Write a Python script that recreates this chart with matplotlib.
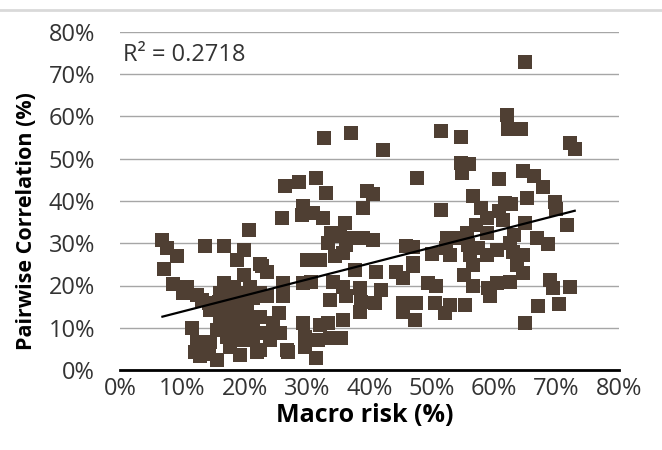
import numpy as np
import matplotlib.pyplot as plt
from matplotlib.lines import Line2D
from matplotlib.ticker import FuncFormatter

plt.rcParams['font.family'] = ['Open Sans', 'DejaVu Sans']

# values in %
x_left = [6.8, 7.5, 9.2, 7.1, 8.5, 10.7, 10.1, 12.3, 13.1, 14.2,
          13.6, 16.7, 20.7, 19.9, 18.7, 22.4, 23.5, 16.6, 19.8, 18.2,
          20.8, 16.0, 17.6, 19.8, 21.4, 23.5, 26.2, 26.2, 14.4, 16.6,
          18.4, 20.3, 22.4, 24.6, 25.6, 11.5, 12.3, 12.0, 12.8, 14.4,
          14.2, 15.5, 15.5, 17.1, 17.1, 17.6, 19.2, 19.2, 19.2, 21.4,
          21.4, 22.4, 23.5, 25.1, 26.7, 22.7, 22.4, 20.3, 18.2, 24.0,
          21.9, 20.3, 16.0, 15.8, 18.8, 25.5]
y_left = [30.8, 28.8, 27.0, 23.9, 20.4, 19.7, 18.2, 17.8, 16.6, 15.8,
          29.4, 29.4, 33.2, 28.3, 26.1, 25.1, 23.3, 20.5, 22.5, 19.7,
          19.7, 18.2, 16.6, 18.2, 17.0, 17.4, 20.5, 17.4, 14.2, 14.2,
          13.8, 14.2, 12.6, 11.1, 8.7, 9.9, 6.7, 4.3, 3.2, 6.7,
          3.9, 2.4, 9.5, 11.1, 7.9, 5.5, 9.9, 7.1, 3.6, 10.3,
          7.1, 4.7, 8.7, 8.7, 4.7, 24.5, 18.2, 12.6, 10.3, 7.1,
          4.3, 16.2, 12.6, 16.0, 16.0, 13.5]

x_mid = [32.7, 37.0, 42.1, 26.4, 28.7, 31.5, 33.1, 39.6, 40.6, 47.6,
         25.9, 29.4, 29.1, 31.0, 32.6, 36.1, 38.9, 33.9, 35.3, 37.4,
         39.0, 40.6, 33.4, 36.3, 45.9, 29.9, 32.1, 34.5, 35.8, 37.7,
         41.1, 44.3, 45.4, 46.9, 29.4, 30.7, 34.2, 35.8, 38.5, 41.9,
         33.7, 36.3, 38.7, 40.9, 35.8, 38.5, 45.4, 47.5, 45.4, 47.3,
         29.4, 32.1, 29.6, 31.8, 33.7, 35.5, 33.4, 27.0, 31.5, 29.6]
y_mid = [55.0, 56.2, 52.0, 43.6, 44.6, 45.4, 42.0, 42.3, 41.7, 45.4,
         35.9, 38.7, 36.7, 37.1, 35.9, 34.8, 38.3, 32.4, 31.6, 31.2,
         31.2, 30.8, 30.0, 29.6, 29.4, 26.1, 26.1, 26.9, 27.6, 23.7,
         23.3, 23.3, 21.7, 25.3, 20.5, 20.9, 20.9, 19.7, 19.4, 19.0,
         16.6, 17.4, 16.2, 15.8, 11.8, 13.8, 15.8, 15.8, 13.8, 11.8,
         11.1, 10.6, 7.9, 7.1, 7.5, 7.5, 11.1, 4.3, 2.8, 5.5]

x_right = [65.0, 62.0, 62.2, 64.3, 51.5, 54.6, 72.1, 72.9, 54.6, 56.0,
           54.8, 60.8, 64.6, 66.4, 67.8, 65.3, 69.7, 69.9, 51.5, 56.6,
           57.8, 61.7, 62.7, 60.7, 58.8, 61.4, 64.9, 71.6, 57.0, 55.7,
           52.5, 54.0, 58.8, 63.1, 66.8, 68.6, 47.0, 50.0, 52.3, 55.8,
           57.4, 60.4, 62.5, 64.6, 52.9, 56.1, 58.8, 63.0, 47.0, 56.6,
           63.6, 64.6, 55.1, 49.4, 50.7, 56.6, 59.0, 60.4, 62.5, 59.3,
           68.9, 69.4, 72.1, 50.5, 52.9, 55.3, 52.1, 67.0, 70.4, 65.0]
y_right = [72.8, 60.4, 57.0, 57.0, 56.5, 55.1, 53.8, 52.2, 49.0, 48.7,
           46.6, 45.2, 47.1, 45.9, 43.4, 40.7, 39.7, 38.2, 37.8, 41.1,
           38.3, 39.5, 39.3, 37.6, 35.9, 35.5, 34.8, 34.4, 34.4, 32.4,
           31.2, 31.2, 32.4, 32.0, 31.2, 29.8, 29.2, 27.5, 28.8, 29.6,
           28.8, 28.5, 30.0, 27.3, 27.2, 27.3, 27.3, 28.0, 24.5, 24.9,
           24.9, 22.9, 22.5, 20.5, 19.9, 20.0, 19.5, 20.5, 20.9, 17.4,
           21.3, 19.4, 19.7, 15.8, 15.4, 15.4, 13.4, 15.1, 15.6, 11.2]

r2_label = 'R² = 0.2718'

x = np.array(x_left + x_mid + x_right)
y = np.array(y_left + y_mid + y_right)

fig = plt.figure(figsize=(6.62, 4.5), dpi=100)
ax = fig.add_axes([120/662, 1-370/450, 499/662, 338/450])

ax.scatter(x, y, marker='s', s=115, color='#4f3f33', linewidths=0, zorder=3)

# linear trend line
slope, intercept = np.polyfit(x, y, 1)
xs = np.array([x.min(), x.max()])
ax.plot(xs, slope*xs + intercept, color='black', lw=1.6, zorder=4)

ax.set_xlim(0, 80)
ax.set_ylim(0, 80)
ax.set_xticks(range(0, 81, 10))
ax.set_yticks(range(0, 81, 10))
pct = FuncFormatter(lambda v, p: f'{v:.0f}%')
ax.xaxis.set_major_formatter(pct)
ax.yaxis.set_major_formatter(pct)
ax.yaxis.grid(True, color='#a6a6a6', lw=1)
ax.set_axisbelow(True)
for s in ['top', 'right', 'left']:
    ax.spines[s].set_visible(False)
ax.spines['bottom'].set_linewidth(2)
ax.spines['bottom'].set_color('black')
ax.tick_params(length=0, labelsize=17, colors='#333333')
ax.tick_params(axis='y', pad=18)
ax.tick_params(axis='x', pad=5)

ax.text(0.5, 74.6, r2_label, fontsize=17, va='center', ha='left', color='#333333')

fig.text(365/662, 1-416/450, 'Macro risk (%)', fontweight='bold', fontsize=18,
         ha='center', va='center', color='black')
fig.text(27/662, 1-221/450, 'Pairwise Correlation (%)', fontweight='bold', fontsize=15.5,
         rotation=90, ha='center', va='center', color='black')

fig.add_artist(Line2D([0, 1], [1-10/450, 1-10/450], color='#d9d9d9', lw=2))

fig.savefig('out.png', dpi=100)
